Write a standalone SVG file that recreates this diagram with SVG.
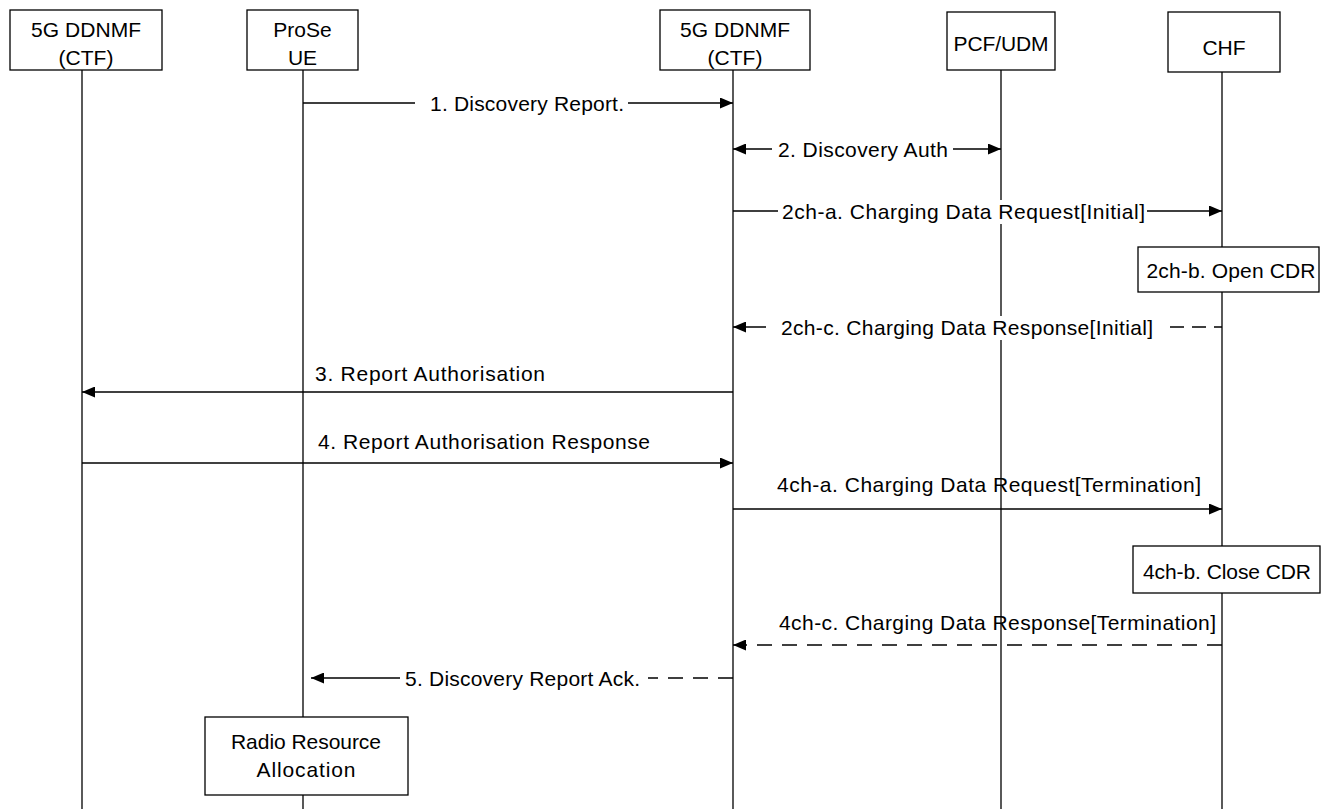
<svg xmlns="http://www.w3.org/2000/svg" width="1331" height="809" viewBox="0 0 1331 809">
<style>
.box{fill:#fff;stroke:#000;stroke-width:1.3}
.life{stroke:#000;stroke-width:1.3;fill:none}
.msg{stroke:#000;stroke-width:1.6;fill:none}
.dash{stroke-dasharray:15 10}
.dash2{stroke-dasharray:14 8}
text{font-family:"Liberation Sans",Arial,sans-serif;font-size:21px;fill:#000}
.c{text-anchor:middle}
</style>
<defs>
<marker id="ah" viewBox="0 0 13 11" refX="13" refY="5.5" markerWidth="13" markerHeight="11" markerUnits="userSpaceOnUse" orient="auto-start-reverse">
<path d="M0,0 L13,5.5 L0,11 z" fill="#000"/>
</marker>
</defs>
<rect width="1331" height="809" fill="#fff"/>

<g id="lifelines">
<path class="life" d="M82 70 V809"/>
<path class="life" d="M303 70 V717 M303 795 V809"/>
<path class="life" d="M733 70 V809"/>
<path class="life" d="M1001 70 V200 M1001 224 V316 M1001 340 V809"/>
<path class="life" d="M1222 72 V809"/>
</g>

<g id="ddnmf1">
<rect class="box" x="10" y="10" width="152" height="60"/>
<text class="c" x="86" y="37" textLength="110">5G DDNMF</text>
<text class="c" x="86" y="65">(CTF)</text>
</g>
<g id="proseue">
<rect class="box" x="247" y="10" width="111" height="60"/>
<text class="c" x="302.5" y="37">ProSe</text>
<text class="c" x="302.5" y="65">UE</text>
</g>
<g id="ddnmf2">
<rect class="box" x="660" y="10" width="150" height="60"/>
<text class="c" x="735" y="37" textLength="110">5G DDNMF</text>
<text class="c" x="735" y="65">(CTF)</text>
</g>
<g id="pcfudm">
<rect class="box" x="947" y="12" width="108" height="58"/>
<text class="c" x="1001" y="51" textLength="95">PCF/UDM</text>
</g>
<g id="chf">
<rect class="box" x="1168" y="12" width="112" height="60"/>
<text class="c" x="1224" y="55">CHF</text>
</g>

<g id="connectors">
<path class="msg" d="M303 103 H415 M628 103 H733" marker-end="url(#ah)"/>
<path class="msg" d="M733 149 H772 M953 149 H1001" marker-start="url(#ah)" marker-end="url(#ah)"/>
<path class="msg" d="M733 211 H778 M1147 211 H1222" marker-end="url(#ah)"/>
<path class="msg dash2" d="M1170 327 H1222"/>
<path class="msg" d="M766 327 H733" marker-end="url(#ah)"/>
<path class="msg" d="M733 392 H82" marker-end="url(#ah)"/>
<path class="msg" d="M82 463 H733" marker-end="url(#ah)"/>
<path class="msg" d="M733 509 H1222" marker-end="url(#ah)"/>
<path class="msg dash" d="M1222 645 H733" marker-end="url(#ah)"/>
<path class="msg dash" d="M733 678 H648"/>
<path class="msg" d="M400 678 H311" marker-end="url(#ah)"/>
</g>

<g id="labels">
<text x="430" y="110.5" textLength="194">1. Discovery Report.</text>
<text x="778" y="156.5" textLength="170">2. Discovery Auth</text>
<text x="782" y="218.5" textLength="363">2ch-a. Charging Data Request[Initial]</text>
<text x="781" y="334.5" textLength="372">2ch-c. Charging Data Response[Initial]</text>
<text x="315" y="381" textLength="230">3. Report Authorisation</text>
<text x="318" y="449" textLength="332">4. Report Authorisation Response</text>
<text x="777" y="492" textLength="424">4ch-a. Charging Data Request[Termination]</text>
<text x="779" y="630" textLength="437">4ch-c. Charging Data Response[Termination]</text>
<text x="405" y="685.5" textLength="235">5. Discovery Report Ack.</text>
</g>

<g id="openCDR">
<rect class="box" x="1138" y="247" width="181" height="45"/>
<text class="c" x="1231" y="278" textLength="169">2ch-b. Open CDR</text>
</g>
<g id="closeCDR">
<rect class="box" x="1133" y="546" width="187" height="47"/>
<text class="c" x="1227" y="579" textLength="168">4ch-b. Close CDR</text>
</g>
<g id="radio">
<rect class="box" x="205" y="717" width="203" height="78"/>
<text class="c" x="306" y="749" textLength="150">Radio Resource</text>
<text class="c" x="306" y="777" textLength="99">Allocation</text>
</g>
</svg>
